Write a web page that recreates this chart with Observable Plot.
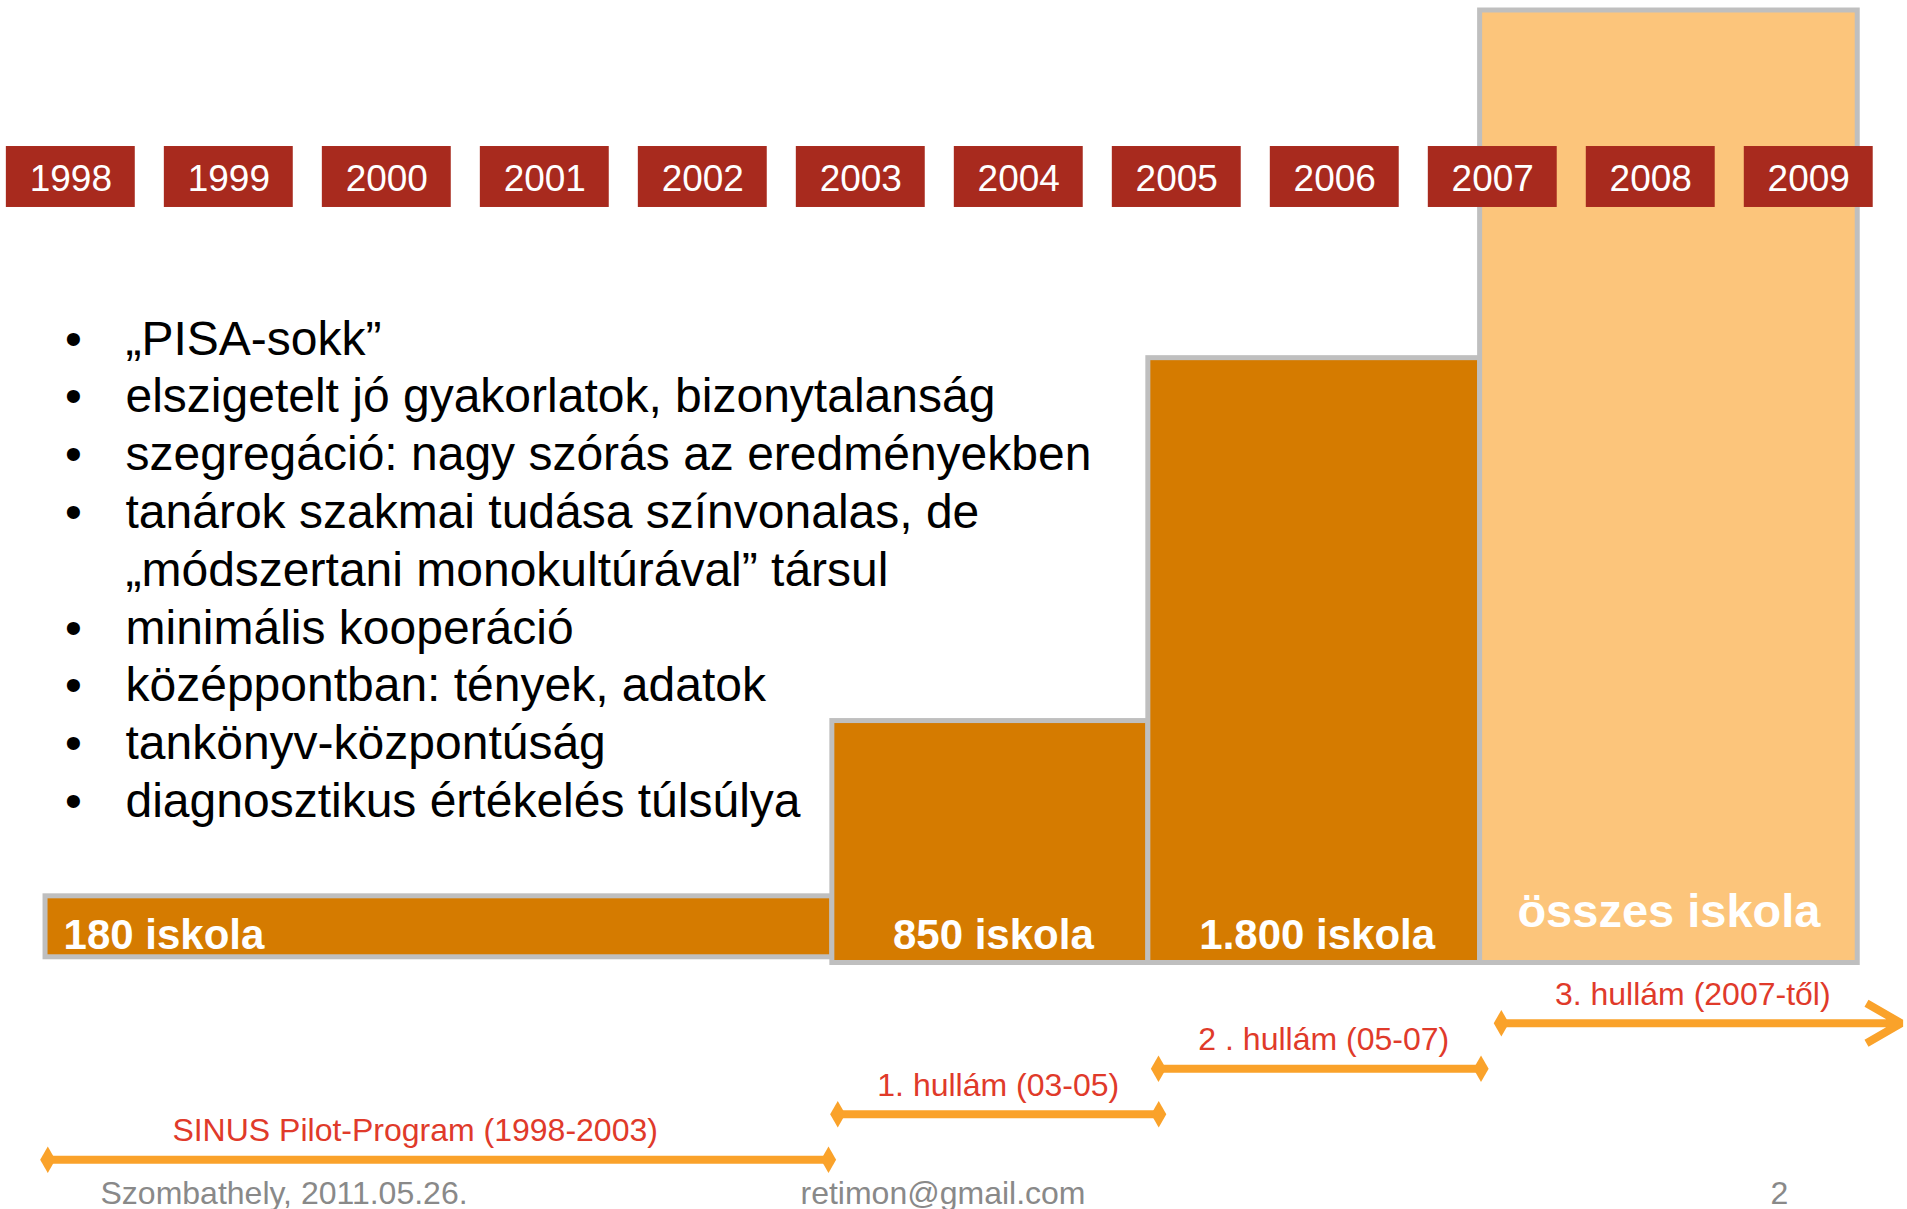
<!DOCTYPE html>
<html>
<head>
<meta charset="utf-8">
<script src="https://cdn.jsdelivr.net/npm/d3@7"></script>
<script src="https://cdn.jsdelivr.net/npm/@observablehq/plot@0.6"></script>
<style>
  html, body { margin: 0; padding: 0; background: #ffffff; }
  #chart svg { display: block; }
</style>
</head>
<body>
<div id="chart"></div>
<script>
// ---- data ----
const years = [1998, 1999, 2000, 2001, 2002, 2003, 2004, 2005, 2006, 2007, 2008, 2009];

const barLabels = ["180 iskola", "850 iskola", "1.800 iskola", "összes iskola"];
const barFrom   = [1997.84, 2002.82, 2004.82, 2006.92];
const barTo     = [2002.82, 2004.82, 2006.92, 2009.31];
const barBase   = [0.6, 0, 0, 0];
const barTop    = [7.0, 25.4, 63.5, 100];

const bulletLines = [
  "„PISA-sokk”",
  "elszigetelt jó gyakorlatok, bizonytalanság",
  "szegregáció: nagy szórás az eredményekben",
  "tanárok szakmai tudása színvonalas, de",
  "„módszertani monokultúrával” társul",
  "minimális kooperáció",
  "középpontban: tények, adatok",
  "tankönyv-központúság",
  "diagnosztikus értékelés túlsúlya"
];
const hasBullet = [true, true, true, true, false, true, true, true, true];

const waveLabels = ["SINUS Pilot-Program (1998-2003)", "1. hullám (03-05)", "2 . hullám (05-07)", "3. hullám (2007-től)"];
const waveFrom   = [1997.81, 2002.81, 2004.84, 2007.01];
const waveTo     = [2002.84, 2004.93, 2006.97, 2009.61];
const waveOpenEnd = [false, false, false, true];

const footerTexts = ["Szombathely, 2011.05.26.", "retimon@gmail.com", "2"];

// ---- layout / style constants ----
const W = 1907, H = 1209;
const FONT = "'Liberation Sans', Arial, sans-serif";
const RED_BOX = "#A82A1E";
const ORANGE = "#D57B00";
const LIGHT = "#FCC57B";
const BORDER = "#BFBFBF";
const ARROW = "#FAA22A";
const LABEL_RED = "#E03A2A";
const GREY = "#898989";

const boxHalf = 0.408;           // half width of year box in years
const boxY1 = 79.32, boxY2 = 85.72, yearBaseline = 81.03;
const bulletY0 = 63.88, bulletStep = 6.068;
const waveY0 = -20.66, waveStep = 4.78, waveLabelGap = 1.94;
const waveLabelShift = [-23, 0, 4, -7];   // px nudges of the wave captions

// ---- tables built from arrays ----
const bars = barLabels.map((label, i) => ({label, x1: barFrom[i], x2: barTo[i], y1: barBase[i], y2: barTop[i]}));
const lines = bulletLines.map((text, i) => ({text, bullet: hasBullet[i], y: bulletY0 - i * bulletStep}));
const waves = waveLabels.map((label, i) => ({label, x1: waveFrom[i], x2: waveTo[i], open: waveOpenEnd[i], y: waveY0 + i * waveStep, i}));
const yearRows = years.map(y => ({year: y}));

const waveLabelMarks = waves.map(w => Plot.text([w], {
  x: d => (d.x1 + d.x2) / 2, y: d => d.y + waveLabelGap, text: "label",
  dx: waveLabelShift[w.i],
  textAnchor: "middle", lineAnchor: "bottom", fill: LABEL_RED, fontSize: 32, fontFamily: FONT
}));

const chart = Plot.plot({
  width: W,
  height: H,
  margin: 0,
  x: {domain: [1997.555, 2009.625], range: [0, W], axis: null},
  y: {domain: [-25.88, 101.05], range: [H, 0], axis: null},
  style: {fontFamily: FONT, background: "#ffffff", overflow: "visible"},
  marks: [
    // stepped bars
    Plot.rect(bars, {
      x1: "x1", x2: "x2", y1: "y1", y2: "y2",
      fill: (d, i) => i === 3 ? LIGHT : ORANGE,
      stroke: BORDER, strokeWidth: 5
    }),
    // year boxes
    Plot.rect(yearRows, {
      x1: d => d.year - boxHalf, x2: d => d.year + boxHalf,
      y1: () => boxY1, y2: () => boxY2,
      fill: RED_BOX
    }),
    Plot.text(yearRows, {
      x: "year", y: () => yearBaseline, text: d => String(d.year),
      fill: "white", fontSize: 37, lineAnchor: "bottom", textAnchor: "middle", fontFamily: FONT
    }),
    // bar labels
    Plot.text(bars.slice(0, 1), {
      x: "x1", y: () => 1.42, text: "label", dx: 18,
      textAnchor: "start", lineAnchor: "bottom",
      fill: "white", fontWeight: "bold", fontSize: 42, fontFamily: FONT
    }),
    Plot.text(bars.slice(1, 3), {
      x: d => (d.x1 + d.x2) / 2, y: () => 1.42, text: "label", dx: 3,
      textAnchor: "middle", lineAnchor: "bottom",
      fill: "white", fontWeight: "bold", fontSize: 42, fontFamily: FONT
    }),
    Plot.text(bars.slice(3), {
      x: d => (d.x1 + d.x2) / 2, y: () => 3.73, text: "label",
      textAnchor: "middle", lineAnchor: "bottom",
      fill: "white", fontWeight: "bold", fontSize: 47, fontFamily: FONT
    }),
    // bullet list
    Plot.text(lines.filter(d => d.bullet), {
      y: "y", text: () => "•", frameAnchor: "left", dx: 73,
      textAnchor: "middle", lineAnchor: "bottom", fill: "black", fontSize: 48, fontFamily: FONT
    }),
    Plot.text(lines, {
      y: "y", text: "text", frameAnchor: "left", dx: 125,
      textAnchor: "start", lineAnchor: "bottom", fill: "black", fontSize: 48, fontFamily: FONT
    }),
    // wave arrows: shafts
    Plot.arrow(waves.filter(d => !d.open), {
      x1: "x1", x2: "x2", y1: "y", y2: "y",
      stroke: ARROW, strokeWidth: 8, headLength: 0,
      insetStart: 7, insetEnd: 7, strokeLinecap: "butt"
    }),
    Plot.arrow(waves.filter(d => d.open), {
      x1: "x1", x2: "x2", y1: "y", y2: "y",
      stroke: ARROW, strokeWidth: 8, headLength: 7.5, headAngle: 60,
      insetStart: 7, insetEnd: 4, strokeLinecap: "butt", strokeLinejoin: "miter"
    }),
    // diamond ends
    Plot.dot(waves, {
      x: "x1", y: "y", symbol: "diamond", r: 8, fill: ARROW, dx: 7
    }),
    Plot.dot(waves.filter(d => !d.open), {
      x: "x2", y: "y", symbol: "diamond", r: 8, fill: ARROW, dx: -7
    }),
    // wave labels
    ...waveLabelMarks,
    // footer
    Plot.text([footerTexts[0]], {
      text: d => d, frameAnchor: "bottom-left", dx: 100, dy: -6,
      textAnchor: "start", lineAnchor: "bottom", fill: GREY, fontSize: 32, fontFamily: FONT
    }),
    Plot.text([footerTexts[1]], {
      text: d => d, frameAnchor: "bottom", dx: -11, dy: -6,
      textAnchor: "middle", lineAnchor: "bottom", fill: GREY, fontSize: 32, fontFamily: FONT
    }),
    Plot.text([footerTexts[2]], {
      text: d => d, frameAnchor: "bottom-right", dx: -128, dy: -6,
      textAnchor: "middle", lineAnchor: "bottom", fill: GREY, fontSize: 32, fontFamily: FONT
    })
  ]
});

document.getElementById("chart").appendChild(chart);
</script>
</body>
</html>
